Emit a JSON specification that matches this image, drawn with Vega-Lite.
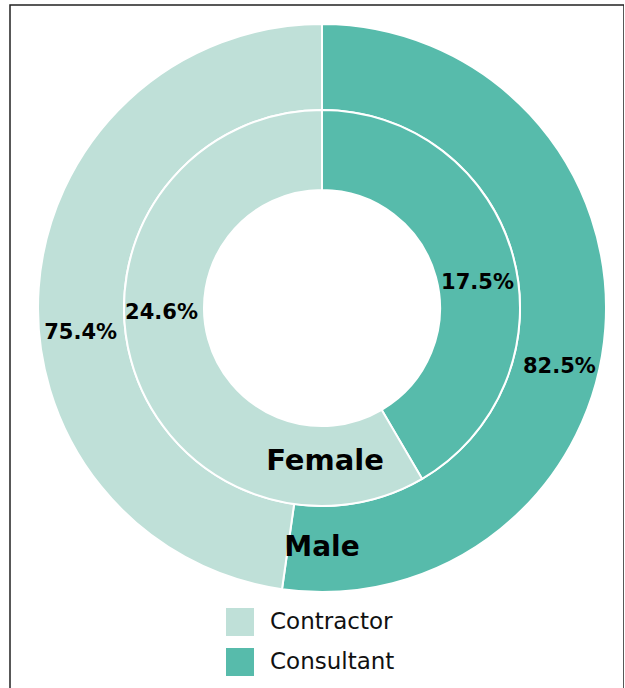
{
  "$schema": "https://vega.github.io/schema/vega-lite/v6.json",
  "width": 614,
  "height": 700,
  "autosize": "none",
  "padding": {"left": 10, "top": 5, "right": 0, "bottom": 0},
  "background": "white",
  "config": {"view": {"stroke": null}},
  "datasets": {
    "rings": [
      {"gender": "Male", "type": "Consultant", "value": 0.825},
      {"gender": "Male", "type": "Contractor", "value": 0.754},
      {"gender": "Female", "type": "Consultant", "value": 0.175},
      {"gender": "Female", "type": "Contractor", "value": 0.246}
    ],
    "genders": [
      {"gender": "Male"},
      {"gender": "Female"}
    ]
  },
  "resolve": {"scale": {"theta": "independent"}},
  "layer": [
    {
      "data": {"name": "genders"},
      "transform": [{"filter": "datum.gender === 'Male'"}],
      "mark": {"type": "rect", "fill": null, "stroke": "#222222", "strokeWidth": 1.5},
      "encoding": {
        "x": {"value": 0}, "x2": {"value": "width"},
        "y": {"value": 0}, "y2": {"value": "height"}
      }
    },
    {
      "data": {"name": "rings"},
      "transform": [{"filter": "datum.gender === 'Male'"}],
      "mark": {"type": "arc", "radius": 284, "radius2": 198, "x": 312, "y": 303, "stroke": "white", "strokeWidth": 2},
      "encoding": {
        "theta": {"field": "value", "type": "quantitative", "stack": true},
        "order": {"field": "type", "sort": "ascending"},
        "color": {
          "field": "type", "type": "nominal",
          "scale": {"domain": ["Contractor", "Consultant"], "range": ["#bfe0d8", "#57bbab"]},
          "legend": {
            "orient": "none", "legendX": 216, "legendY": 603, "title": null, "padding": 0,
            "symbolType": "square", "symbolSize": 784, "symbolStrokeWidth": 0,
            "labelFontSize": 23, "labelFont": "DejaVu Sans", "labelColor": "#111111",
            "labelOffset": 16, "rowPadding": 12
          }
        }
      }
    },
    {
      "data": {"name": "rings"},
      "transform": [{"filter": "datum.gender === 'Female'"}],
      "mark": {"type": "arc", "radius": 198, "radius2": 118, "x": 312, "y": 303, "stroke": "white", "strokeWidth": 2},
      "encoding": {
        "theta": {"field": "value", "type": "quantitative", "stack": true},
        "order": {"field": "type", "sort": "ascending"},
        "color": {"field": "type", "type": "nominal"}
      }
    },
    {
      "data": {"name": "rings"},
      "transform": [{"filter": "datum.gender === 'Male'"}],
      "mark": {"type": "text", "radius": 240, "x": 312, "y": 303, "xOffset": -2, "yOffset": 42, "font": "DejaVu Sans", "fontWeight": "bold", "fontSize": 21, "color": "#000000", "baseline": "middle", "align": "center"},
      "encoding": {
        "theta": {"field": "value", "type": "quantitative", "stack": true},
        "order": {"field": "type", "sort": "ascending"},
        "detail": {"field": "type", "type": "nominal"},
        "text": {"field": "value", "type": "quantitative", "format": ".1%"}
      }
    },
    {
      "data": {"name": "rings"},
      "transform": [{"filter": "datum.gender === 'Female'"}],
      "mark": {"type": "text", "radius": 158, "x": 312, "y": 303, "xOffset": -8, "yOffset": -36, "font": "DejaVu Sans", "fontWeight": "bold", "fontSize": 21, "color": "#000000", "baseline": "middle", "align": "center"},
      "encoding": {
        "theta": {"field": "value", "type": "quantitative", "stack": true},
        "order": {"field": "type", "sort": "ascending"},
        "detail": {"field": "type", "type": "nominal"},
        "text": {"condition": {"test": "datum.type === 'Contractor'", "field": "value", "type": "quantitative", "format": ".1%"}, "value": ""}
      }
    },
    {
      "data": {"name": "rings"},
      "transform": [{"filter": "datum.gender === 'Female'"}],
      "mark": {"type": "text", "radius": 158, "x": 312, "y": 303, "xOffset": 3, "yOffset": 16, "font": "DejaVu Sans", "fontWeight": "bold", "fontSize": 21, "color": "#000000", "baseline": "middle", "align": "center"},
      "encoding": {
        "theta": {"field": "value", "type": "quantitative", "stack": true},
        "order": {"field": "type", "sort": "ascending"},
        "detail": {"field": "type", "type": "nominal"},
        "text": {"condition": {"test": "datum.type === 'Consultant'", "field": "value", "type": "quantitative", "format": ".1%"}, "value": ""}
      }
    },
    {
      "data": {"name": "genders"},
      "transform": [{"filter": "datum.gender === 'Female'"}],
      "mark": {"type": "text", "radius": 153, "theta": 3.1416, "x": 315, "y": 303, "font": "DejaVu Sans", "fontWeight": "bold", "fontSize": 29, "color": "#000000", "baseline": "middle", "align": "center"},
      "encoding": {"text": {"field": "gender", "type": "nominal"}}
    },
    {
      "data": {"name": "genders"},
      "transform": [{"filter": "datum.gender === 'Male'"}],
      "mark": {"type": "text", "radius": 240, "theta": 3.1416, "x": 312, "y": 303, "font": "DejaVu Sans", "fontWeight": "bold", "fontSize": 28, "color": "#000000", "baseline": "middle", "align": "center"},
      "encoding": {"text": {"field": "gender", "type": "nominal"}}
    }
  ]
}
